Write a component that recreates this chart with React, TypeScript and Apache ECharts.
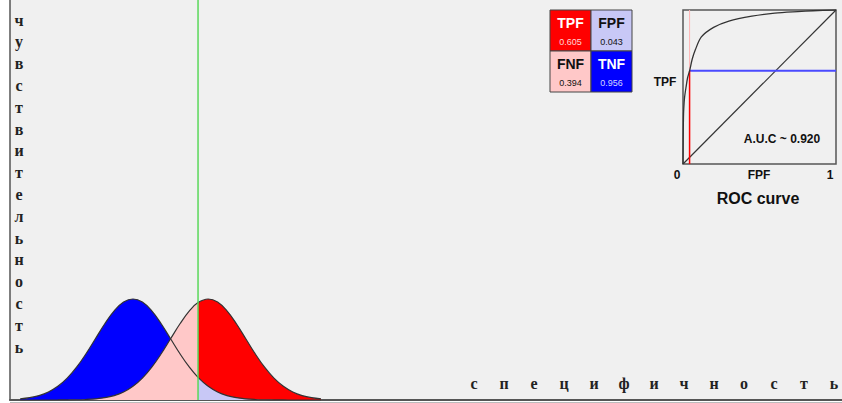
import React, { useEffect, useRef } from "react";
import * as echarts from "echarts";

// Axis captions (Russian)
const yLabel = "чувствительность";
const xLabel = "специфичность";

// Decision variable positions and the two class densities
const xs = [-3, -2.75, -2.5, -2.25, -2, -1.75, -1.5, -1.25, -1, -0.75, -0.5, -0.25, 0, 0.25, 0.5, 0.75, 1, 1.25, 1.5, 1.73, 2, 2.25, 2.5, 2.75, 3, 3.25, 3.5, 3.75, 4, 4.25, 4.5, 4.75, 5];
const negDensity = [0.0044, 0.0091, 0.0175, 0.0317, 0.054, 0.0863, 0.1295, 0.1826, 0.242, 0.3011, 0.3521, 0.3867, 0.3989, 0.3867, 0.3521, 0.3011, 0.242, 0.1826, 0.1295, 0.0893, 0.054, 0.0317, 0.0175, 0.0091, 0.0044, 0.002, 0.0009, 0.0003, 0.0001, 0, 0, 0, 0];
const posDensity = [0, 0, 0, 0, 0.0001, 0.0004, 0.0009, 0.002, 0.0044, 0.0091, 0.0175, 0.0317, 0.054, 0.0863, 0.1295, 0.1826, 0.242, 0.3011, 0.3521, 0.3847, 0.3989, 0.3867, 0.3521, 0.3011, 0.242, 0.1826, 0.1295, 0.0863, 0.054, 0.0317, 0.0175, 0.0091, 0.0044];
const threshold = 1.73;

// Confusion-matrix fractions
const matrixNames = ["TPF", "FPF", "FNF", "TNF"];
const matrixValues = [0.605, 0.043, 0.394, 0.956];

// ROC curve
const rocFPF = [0, 0.001, 0.003, 0.005, 0.01, 0.02, 0.03, 0.043, 0.06, 0.08, 0.12, 0.2, 0.3, 0.45, 0.6, 0.75, 0.85, 1];
const rocTPF = [0, 0.15, 0.3, 0.36, 0.43, 0.5, 0.56, 0.605, 0.68, 0.74, 0.825, 0.887, 0.928, 0.96, 0.98, 0.99, 0.995, 1];
const opFPF = 0.043;
const opTPF = 0.605;
const auc = 0.92;
const rocTickLabels = ["0", "FPF", "1"];

const SANS = '"Liberation Sans", Arial, sans-serif';
const SERIF = '"Liberation Serif", "Times New Roman", serif';

export default function App() {
  const ref = useRef<HTMLDivElement>(null);
  useEffect(() => {
    document.body.style.margin = "0";
    const chart = echarts.init(ref.current!, null, { renderer: "svg" });
    const pair = (arr: number[]) => xs.map((x, i) => [x, arr[i]]);
    const neg = pair(negDensity);
    const pos = pair(posDensity);
    const left = (d: number[][]) => d.filter((p) => p[0] <= threshold);
    const right = (d: number[][]) => d.filter((p) => p[0] >= threshold);
    const area = (data: number[][], color: string) => ({
      type: "line",
      xAxisIndex: 0,
      yAxisIndex: 0,
      data,
      smooth: 0.4,
      symbol: "none",
      silent: true,
      lineStyle: { width: 0 },
      areaStyle: { color, opacity: 1 },
    });
    const outline = (data: number[][]) => ({
      type: "line",
      xAxisIndex: 0,
      yAxisIndex: 0,
      data,
      smooth: 0.4,
      symbol: "none",
      silent: true,
      lineStyle: { color: "#333", width: 1.2 },
    });
    const rocLine = (data: number[][], color: string, width: number, smooth = 0) => ({
      type: "line",
      xAxisIndex: 1,
      yAxisIndex: 1,
      data,
      smooth,
      symbol: "none",
      silent: true,
      lineStyle: { color, width },
    });

    const cell = 41;
    const mx = 550;
    const my = 10;
    const cellFill = ["#ff0000", "#c8c8f6", "#ffc8c8", "#0000ff"];
    const nameFill = ["#ffffff", "#111111", "#111111", "#ffffff"];
    const valueFill = ["#ffd6d6", "#111111", "#111111", "#d6d6ff"];
    const matrix: any[] = [];
    matrixNames.forEach((name, i) => {
      const cx = mx + (i % 2) * cell;
      const cy = my + Math.floor(i / 2) * cell;
      matrix.push({
        type: "rect",
        shape: { x: cx, y: cy, width: cell, height: cell },
        style: { fill: cellFill[i], stroke: "#444", lineWidth: 1 },
      });
      matrix.push({
        type: "text",
        x: cx + cell / 2,
        y: cy + 13,
        style: { text: name, fill: nameFill[i], fontFamily: SANS, fontWeight: "bold", fontSize: 14, align: "center", verticalAlign: "middle" },
      });
      matrix.push({
        type: "text",
        x: cx + cell / 2,
        y: cy + 32,
        style: { text: matrixValues[i].toFixed(3), fill: valueFill[i], fontFamily: SANS, fontSize: 9, align: "center", verticalAlign: "middle" },
      });
    });

    const letters: any[] = [];
    yLabel.split("").forEach((ch, i) => {
      letters.push({
        type: "text",
        x: 19,
        y: 20 + i * 21.8,
        style: { text: ch, fill: "#222", fontFamily: SERIF, fontWeight: "bold", fontSize: 16, align: "center", verticalAlign: "middle" },
      });
    });
    xLabel.split("").forEach((ch, i) => {
      letters.push({
        type: "text",
        x: 474 + i * 30,
        y: 383,
        style: { text: ch, fill: "#222", fontFamily: SERIF, fontWeight: "bold", fontSize: 16, align: "center", verticalAlign: "middle" },
      });
    });

    const rocTexts = [
      { t: "TPF", x: 665, y: 82, s: 12 },
      { t: rocTickLabels[0], x: 677, y: 175, s: 12 },
      { t: rocTickLabels[1], x: 759, y: 175, s: 12 },
      { t: rocTickLabels[2], x: 830, y: 175, s: 12 },
      { t: "ROC curve", x: 758, y: 198, s: 16 },
      { t: "A.U.C ~ " + auc.toFixed(3), x: 782, y: 139, s: 12 },
    ].map((o) => ({
      type: "text",
      x: o.x,
      y: o.y,
      style: { text: o.t, fill: "#111", fontFamily: SANS, fontWeight: "bold", fontSize: o.s, align: "center", verticalAlign: "middle" },
    }));

    chart.setOption({
      animation: false,
      backgroundColor: "#ffffff",
      grid: [
        { left: 10, top: 0, width: 832, height: 400, show: true, backgroundColor: "#f0f0f0", borderWidth: 0 },
        { left: 683, top: 10, width: 153, height: 154, show: true, backgroundColor: "#f0f0f0", borderColor: "#555", borderWidth: 1.5 },
      ],
      xAxis: [
        {
          type: "value", gridIndex: 0, min: -3.271, max: 18.857,
          axisLine: { show: true, onZero: false, lineStyle: { color: "#555", width: 2 } },
          axisTick: { show: false }, axisLabel: { show: false }, splitLine: { show: false },
        },
        { type: "value", gridIndex: 1, min: 0, max: 1, show: false },
      ],
      yAxis: [
        {
          type: "value", gridIndex: 0, min: 0, max: 1.58,
          axisLine: { show: true, onZero: false, lineStyle: { color: "#555", width: 1.5 } },
          axisTick: { show: false }, axisLabel: { show: false }, splitLine: { show: false },
        },
        { type: "value", gridIndex: 1, min: 0, max: 1, show: false },
      ],
      series: [
        area(left(neg), "#0000ff"),
        area(left(pos), "#ffc8c8"),
        area(right(pos), "#ff0000"),
        area(right(neg), "#c8c8f6"),
        outline(neg),
        outline(pos),
        {
          type: "line", xAxisIndex: 0, yAxisIndex: 0, symbol: "none", silent: true,
          data: [[threshold, 0], [threshold, 1.58]],
          lineStyle: { color: "#5ad85a", width: 1.5 },
        },
        rocLine([[0, 0], [1, 1]], "#333", 1.2),
        rocLine([[opFPF, opTPF], [opFPF, 1]], "#ffb4b4", 1),
        rocLine([[opFPF, opTPF], [1, opTPF]], "#4a4aff", 2),
        rocLine([[opFPF, 0], [opFPF, opTPF]], "#ff0000", 1.5),
        rocLine(rocFPF.map((f, i) => [f, rocTPF[i]]), "#333", 1.3, 0.3),
      ],
      graphic: [
        ...matrix,
        ...letters,
        ...rocTexts,
        { type: "line", shape: { x1: 10, y1: 402.5, x2: 842, y2: 402.5 }, style: { stroke: "#bbb", lineWidth: 1 } },
      ],
    });
    return () => chart.dispose();
  }, []);
  return <div ref={ref} style={{ width: 842, height: 403 }} />;
}
